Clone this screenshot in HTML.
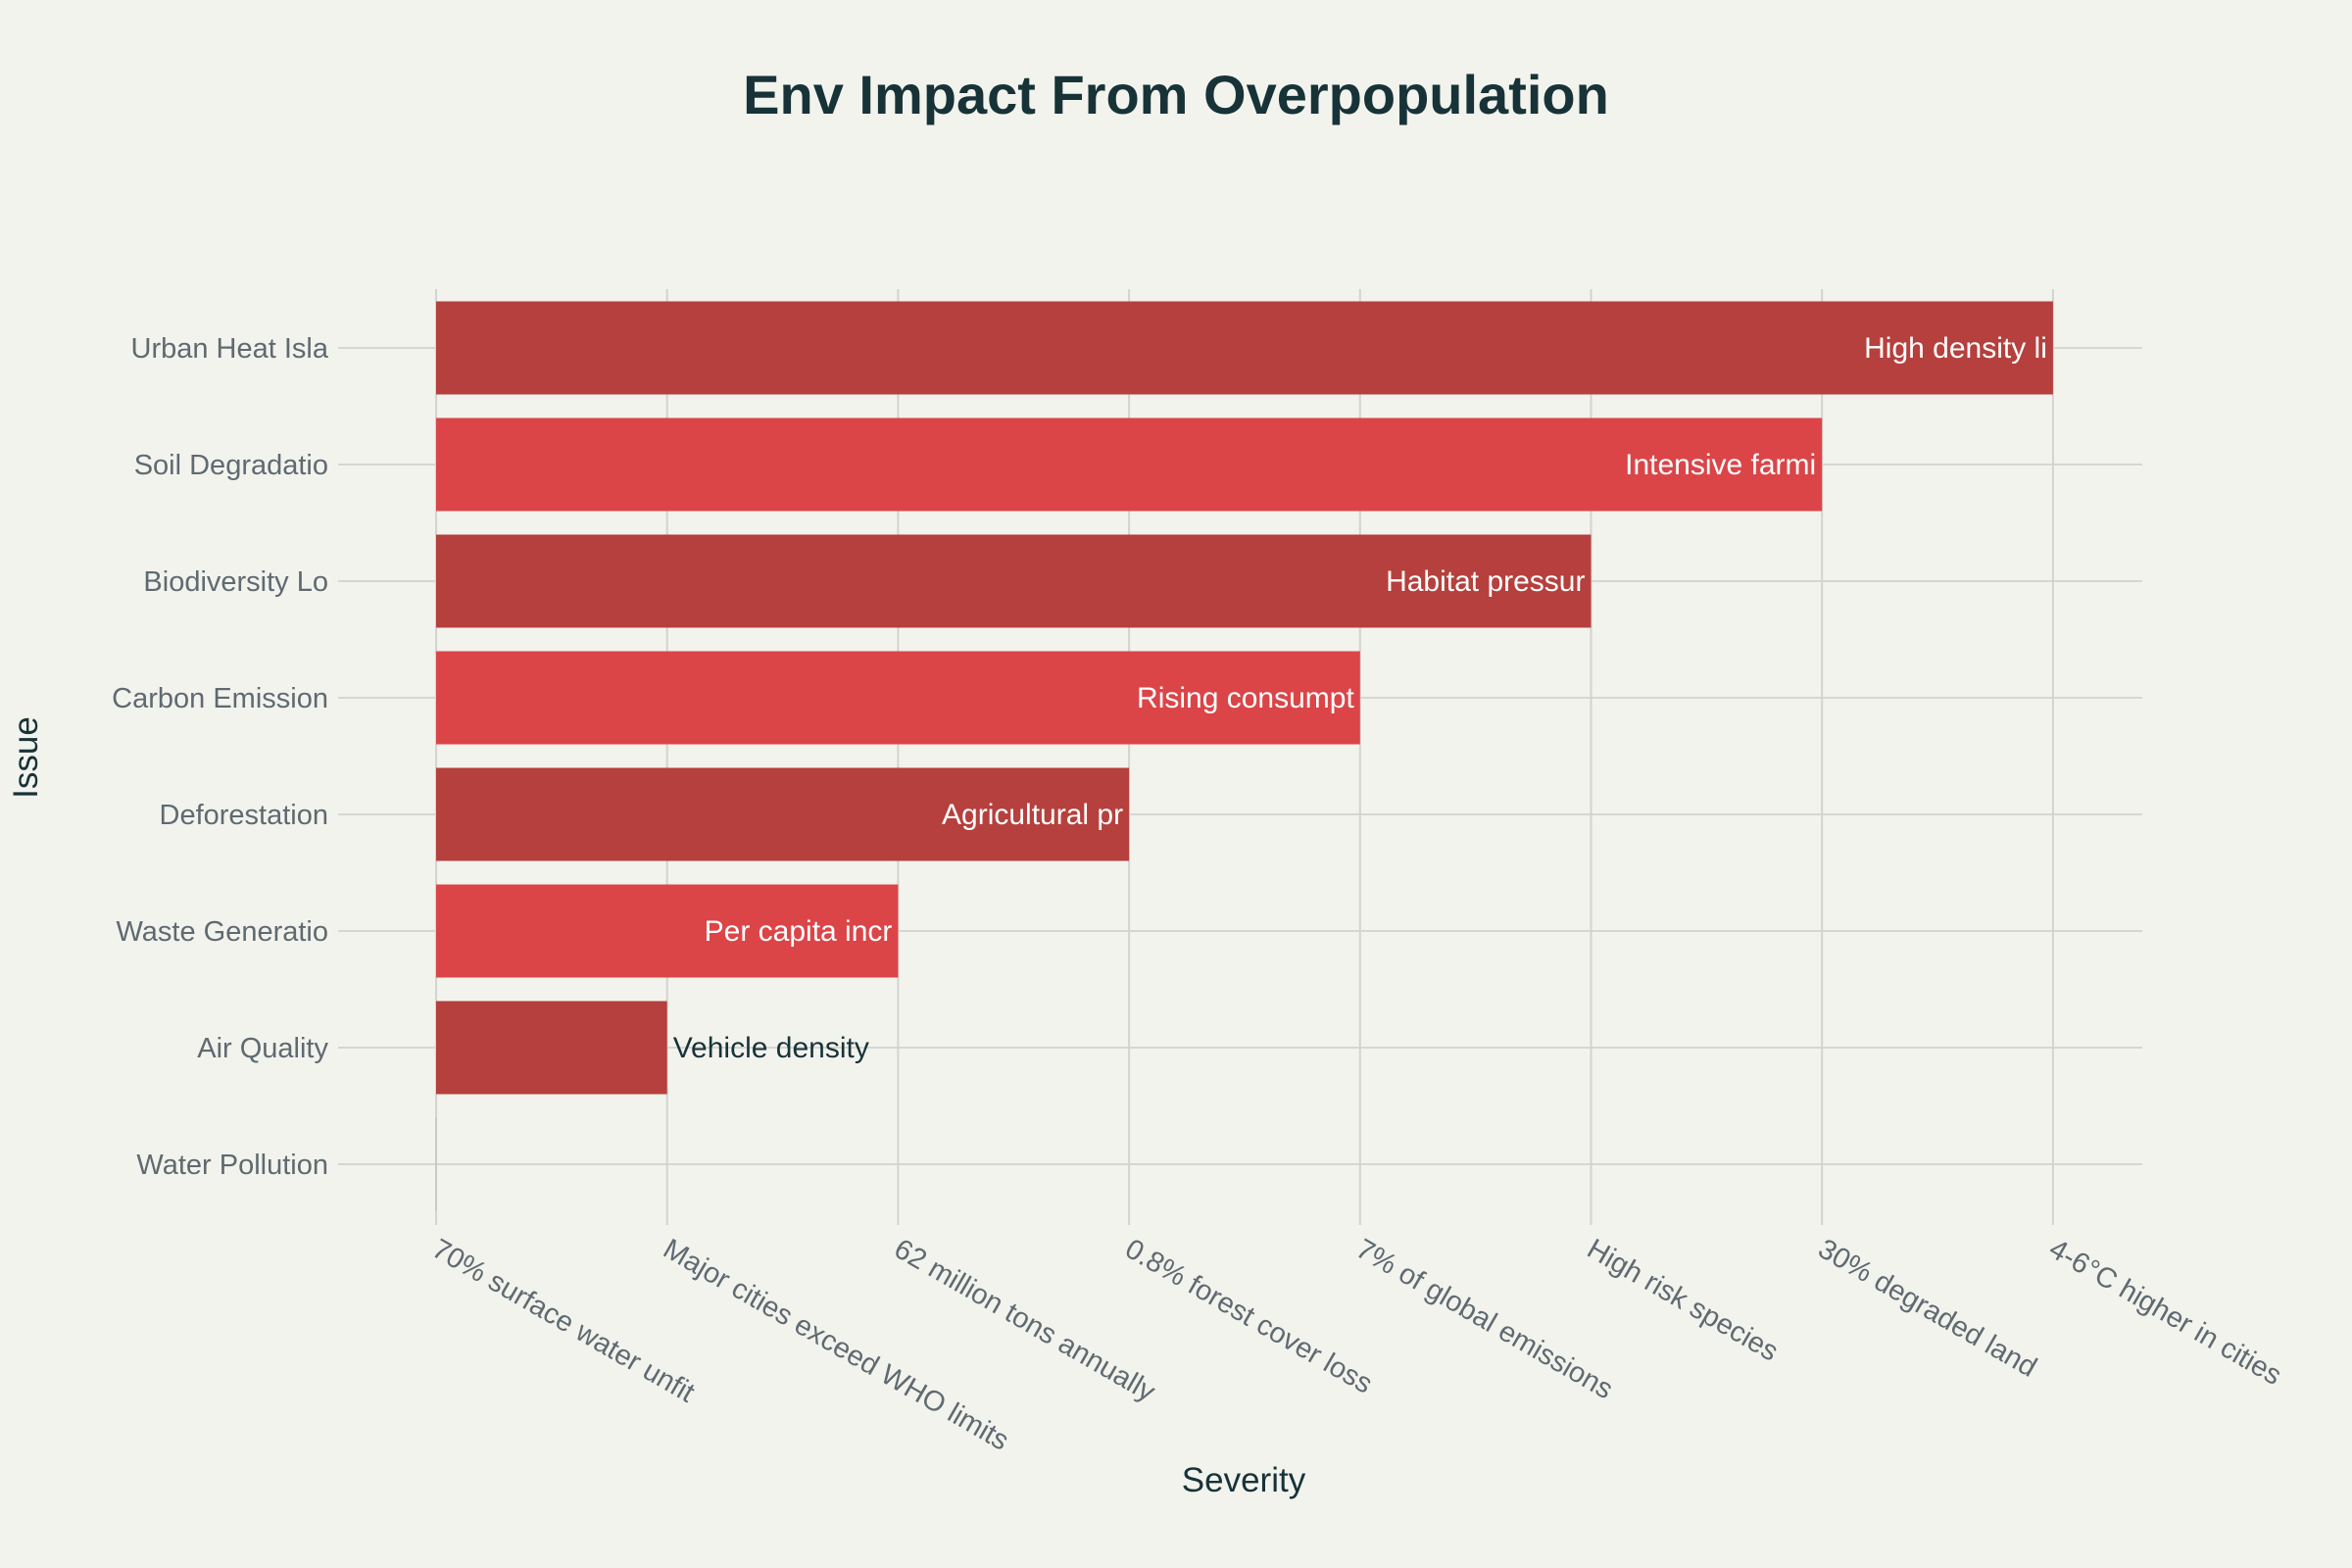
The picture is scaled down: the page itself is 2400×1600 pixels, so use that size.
<!DOCTYPE html>
<html><head><meta charset="utf-8"><style>
html,body{margin:0;padding:0;background:#f3f3ee;}
svg{display:block;font-family:"Liberation Sans",sans-serif;}
</style></head><body>
<svg id="chart" width="2400" height="1600" viewBox="0 0 2400 1600" xmlns="http://www.w3.org/2000/svg">
<rect width="2400" height="1600" fill="#f3f3ee"/>
<text x="1200" y="116" text-anchor="middle" font-size="56" font-weight="bold" fill="#173338">Env Impact From Overpopulation</text>
<g id="grid"></g>
<g id="bars"></g>
<g id="yticks"></g>
<g id="xticks"></g>
<text x="1269" y="1522" text-anchor="middle" font-size="35" fill="#173338">Severity</text>
<text transform="translate(38,773) rotate(-90)" text-anchor="middle" font-size="35" fill="#173338">Issue</text>
</svg>
<script>
const categories = ["Water Pollution","Air Quality","Waste Generatio","Deforestation","Carbon Emission","Biodiversity Lo","Soil Degradatio","Urban Heat Isla"];
const values = [0,1,2,3,4,5,6,7];
const barLabels = ["70% surface wa","Vehicle density","Per capita incr","Agricultural pr","Rising consumpt","Habitat pressur","Intensive farmi","High density li"];
const xTickLabels = ["70% surface water unfit","Major cities exceed WHO limits","62 million tons annually","0.8% forest cover loss","7% of global emissions","High risk species","30% degraded land","4-6°C higher in cities"];
const barColors = ["#db4548","#b5403d"];

const NS="http://www.w3.org/2000/svg";
const x0=445, xStep=235.7, yTop=355, yStep=119, barH=95, gridRight=2186, gridTop=295, gridBottom=1236;
const xScale=v=>x0+v*xStep;
const yScale=i=>yTop+(categories.length-1-i)*yStep;
function mk(tag,attrs,parent){const e=document.createElementNS(NS,tag);for(const k in attrs)e.setAttribute(k,attrs[k]);parent.appendChild(e);return e;}
const grid=document.getElementById('grid'),bars=document.getElementById('bars'),yt=document.getElementById('yticks'),xt=document.getElementById('xticks');

categories.forEach((c,i)=>{
  const y=yScale(i);
  const l=mk('line',{x1:345,x2:gridRight,y1:y,y2:y,stroke:'#d6d6d2','stroke-width':2},grid);
  
  
  const t=mk('text',{x:335,y:y+10,'text-anchor':'end','font-size':29,fill:'#5f6a70'},yt);
  t.textContent=c;
  
  
});
xTickLabels.forEach((lab,i)=>{
  const x=xScale(i);
  const l=mk('line',{x1:x,x2:x,y1:gridTop,y2:gridBottom+14,stroke:'#d3d3cf','stroke-width':2},grid);
  
  
  const t=mk('text',{x:0,y:0,transform:`translate(${x-6},${gridBottom+44}) rotate(30)`,'font-size':29,fill:'#5f6a70'},xt);
  t.textContent=lab;
  
  
});
categories.forEach((c,i)=>{
  const y=yScale(i), v=values[i];
  const w=xScale(v)-x0;
  if(w<=0){
    const l=mk('line',{x1:x0,x2:x0,y1:y-barH/2,y2:y+barH/2,stroke:'#c9c9c5','stroke-width':2},bars);
    
    
    return;
  }
  const r=mk('rect',{x:x0,y:y-barH/2,width:w,height:barH,fill:barColors[(categories.length-1-i)%2===0?1:0]},bars);
  
  
  const inside=w>260;
  const t=mk('text',{x:inside?xScale(v)-6:xScale(v)+6,y:y+10,'text-anchor':inside?'end':'start','font-size':30,fill:inside?'#ffffff':'#173338'},bars);
  t.textContent=barLabels[i];
  
  
});
</script>
</body></html>
